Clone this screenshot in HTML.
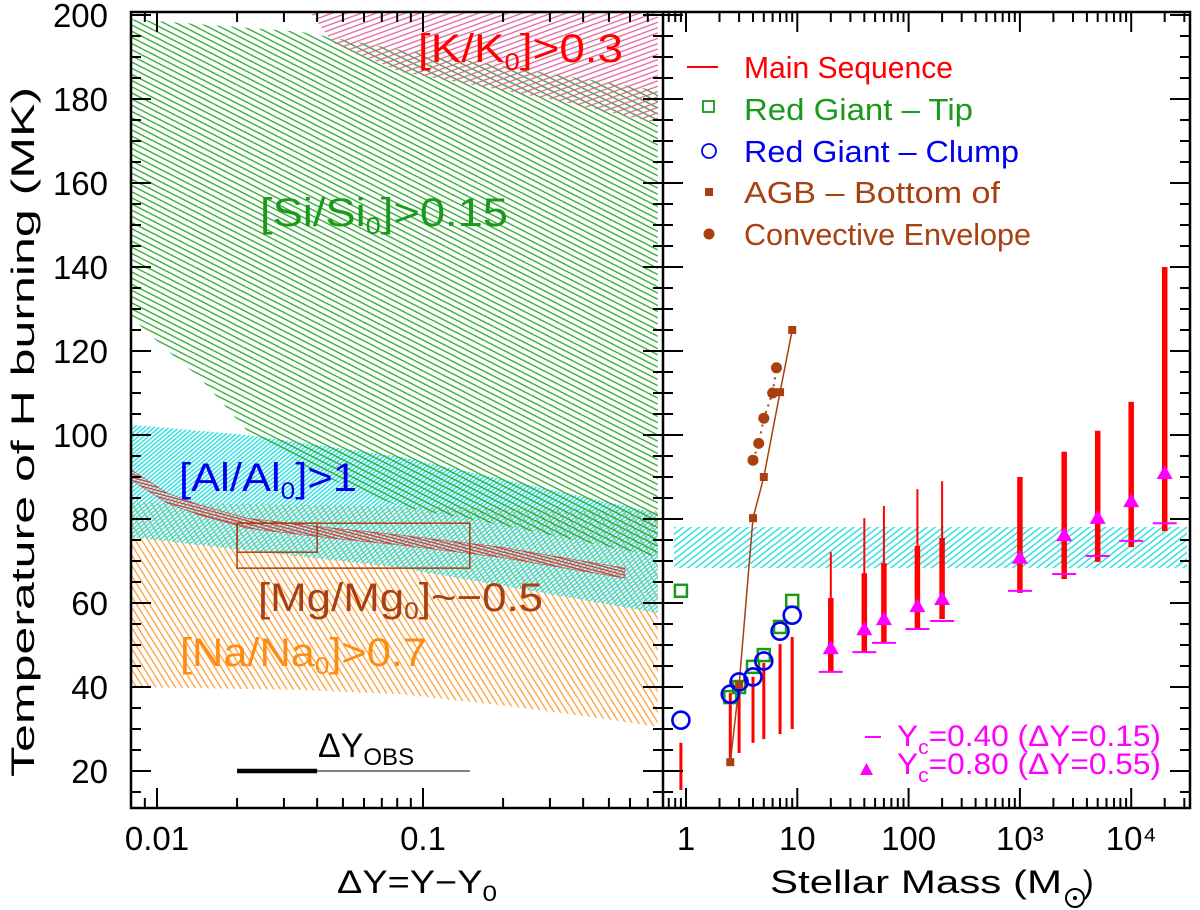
<!DOCTYPE html>
<html><head><meta charset="utf-8"><style>
html,body{margin:0;padding:0;background:#fff;}
svg{display:block;font-family:"Liberation Sans",sans-serif;}
</style></head><body>
<svg id="fig" width="1200" height="910" viewBox="0 0 1200 910" xmlns="http://www.w3.org/2000/svg">
<defs>
<pattern id="pGreen" patternUnits="userSpaceOnUse" width="20" height="5.5" patternTransform="rotate(27)"><line x1="0" y1="1" x2="20" y2="1" stroke="#22a522" stroke-width="1.3"/></pattern>
<pattern id="pPink" patternUnits="userSpaceOnUse" width="20" height="5" patternTransform="rotate(-20)"><line x1="0" y1="1" x2="20" y2="1" stroke="#e0609a" stroke-width="1.2"/></pattern>
<pattern id="pCyanL" patternUnits="userSpaceOnUse" width="20" height="3.2" patternTransform="rotate(-40)"><line x1="0" y1="1" x2="20" y2="1" stroke="#30dede" stroke-width="1.5"/></pattern>
<pattern id="pCyanR" patternUnits="userSpaceOnUse" width="20" height="5" patternTransform="rotate(-38)"><line x1="0" y1="1" x2="20" y2="1" stroke="#30dede" stroke-width="1.4"/></pattern>
<pattern id="pOrange" patternUnits="userSpaceOnUse" width="20" height="5.5" patternTransform="rotate(58)"><line x1="0" y1="1" x2="20" y2="1" stroke="#ff9a30" stroke-width="1.3"/></pattern>
<pattern id="pRed" patternUnits="userSpaceOnUse" width="20" height="3" patternTransform="rotate(15)"><line x1="0" y1="1" x2="20" y2="1" stroke="#e03030" stroke-width="1.2"/></pattern>
</defs>
<g id="regions"></g>
<g id="marks"></g>
<g id="axes"></g>

<g font-size="40">
<text x="418" y="62" fill="#ff0000" textLength="205" lengthAdjust="spacingAndGlyphs">[K/K<tspan font-size="24" dy="8">0</tspan><tspan dy="-8">]&gt;0.3</tspan></text>
<text x="260" y="226" fill="#1a9a1a" textLength="248" lengthAdjust="spacingAndGlyphs">[Si/Si<tspan font-size="24" dy="8">0</tspan><tspan dy="-8">]&gt;0.15</tspan></text>
<text x="179" y="491" fill="#0000ee" textLength="178" lengthAdjust="spacingAndGlyphs">[Al/Al<tspan font-size="24" dy="8">0</tspan><tspan dy="-8">]&gt;1</tspan></text>
<text x="258" y="611" fill="#a84010" textLength="285" lengthAdjust="spacingAndGlyphs">[Mg/Mg<tspan font-size="24" dy="8">0</tspan><tspan dy="-8">]~−0.5</tspan></text>
<text x="180" y="666" fill="#ff8c10" textLength="247" lengthAdjust="spacingAndGlyphs">[Na/Na<tspan font-size="24" dy="8">0</tspan><tspan dy="-8">]&gt;0.7</tspan></text>
<text x="318" y="757" fill="#000" font-size="34">ΔY<tspan font-size="24" dy="8">OBS</tspan></text>
</g>

<g font-size="31">
<line x1="687" y1="67" x2="718" y2="67" stroke="#ff0000" stroke-width="2"/>
<text x="744" y="78" fill="#ff0000" textLength="209" lengthAdjust="spacingAndGlyphs">Main Sequence</text>
<rect x="703" y="101" width="11" height="11" fill="none" stroke="#1a9a1a" stroke-width="1.8"/>
<text x="744" y="120" fill="#1a9a1a" textLength="229" lengthAdjust="spacingAndGlyphs">Red Giant – Tip</text>
<circle cx="709" cy="151" r="7" fill="none" stroke="#0000ee" stroke-width="1.8"/>
<text x="744" y="162" fill="#0000ee" textLength="275" lengthAdjust="spacingAndGlyphs">Red Giant – Clump</text>
<rect x="705" y="188" width="8" height="8" fill="#a84010"/>
<text x="744" y="203" fill="#a84010" textLength="256" lengthAdjust="spacingAndGlyphs">AGB – Bottom of</text>
<circle cx="709" cy="234" r="5.5" fill="#a84010"/>
<text x="744" y="245" fill="#a84010" textLength="287" lengthAdjust="spacingAndGlyphs">Convective Envelope</text>
</g>
<g font-size="30" fill="#ff00ff">
<line x1="865" y1="737" x2="881" y2="737" stroke="#ff00ff" stroke-width="2"/>
<text x="897" y="746" textLength="264" lengthAdjust="spacingAndGlyphs">Y<tspan font-size="20" dy="8">c</tspan><tspan dy="-8">=0.40 (ΔY=0.15)</tspan></text>
<polygon points="860,775 873,775 866.5,763" fill="#ff00ff"/>
<text x="897" y="774" textLength="264" lengthAdjust="spacingAndGlyphs">Y<tspan font-size="20" dy="8">c</tspan><tspan dy="-8">=0.80 (ΔY=0.55)</tspan></text>
</g>

<g font-size="32" fill="#000">
<text transform="translate(34,432) rotate(-90)" text-anchor="middle" textLength="690" lengthAdjust="spacingAndGlyphs">Temperature of H burning (MK)</text>
<text x="337" y="893" textLength="160" lengthAdjust="spacingAndGlyphs">ΔY=Y−Y<tspan font-size="22" dy="8">0</tspan></text>
<text x="770" y="893" textLength="292" lengthAdjust="spacingAndGlyphs">Stellar Mass (M</text>
<circle cx="1075" cy="898" r="9" fill="none" stroke="#000" stroke-width="2"/>
<circle cx="1075" cy="898" r="2" fill="#000"/>
<text x="1083" y="893">)</text>
</g>
</svg>
<script>
// ---------- data ----------
const siTop = [[0.008,199],[0.0345,196],[0.082,191.7],[0.763,182]];
const siBottom = [[0.763,71],[0.195,78.6],[0.082,83],[0.041,90.5],[0.0218,101],[0.0145,113.6],[0.0109,120.2],[0.008,128]];
const kTop = [[0.0376,200.7],[0.763,200.7]];
const kBottom = [[0.763,174.3],[0.30,180],[0.082,186.5],[0.046,193.3]];
const alTop = [[0.008,102.4],[0.0218,100],[0.082,94.8],[0.763,81.4]];
const alBottom = [[0.763,57.6],[0.082,68.4],[0.008,75.7]];
const naTop = [[0.008,84],[0.763,82]];
const naBottom = [[0.763,30.5],[0.462,32.6],[0.195,35.7],[0.082,38.3],[0.0345,39.3],[0.008,40]];
const mgBand = [[0.008,90.5],[0.0109,85],[0.0145,82.1],[0.0218,79],[0.0447,76.7],[0.082,75],[0.195,72.1],[0.574,67.1]];
const mgHalfWidth = 1.2;
const obsBoxOuter = [0.02,0.15,68.3,79];
const obsBoxInner = [0.02,0.04,72.1,79];
const dyObsThick = [0.02,0.04];
const dyObsThin = [0.04,0.15];
const dyObsT = 20;
const clumpBand = [0.78,68.3,78.1];

const lowMass = [0.9,2.5,3,4,5,7,9];
const msLowTop = [26.7,38.6,40,42.4,45.7,50.2,51.9];
const msLowBottom = [15.5,22,24.3,26.7,27.6,28.8,30];
const rgTip = [62.9,37.6,40,44.8,47.6,54.3,60.5];
const rgClump = [32.1,38.3,41.2,42.4,46.2,53.3,57.1];
const agbSqMass = [2.5,3,4,5,7,9];
const agbSqT = [22.1,40.5,80.2,90,110.2,125];
const agbCircMass = [4,4.5,5,6,6.5];
const agbCircT = [94,98,104,110,116];

const highMass = [20,40,60,120,200,1000,2500,5000,10000,20000];
const msThinTop = [72.1,80.2,83.1,87.1,89,null,null,null,null,null];
const msThickTop = [61.2,67.1,69.5,73.6,75.5,90,96,101,107.9,140];
const msBottom = [43.6,48.3,50.5,53.8,56.2,62.4,65.7,69.8,73.3,77.1];
const yc080 = [49.5,54,56.4,59.5,61.2,71,76.4,80.5,84.5,91.2];
const yc040 = [43.6,48.3,50.5,53.8,55.7,62.9,66.9,71.2,74.8,79];

const yTicksMajor = [20,40,60,80,100,120,140,160,180,200];
const leftXTickLabels = [["0.01",0.01],["0.1",0.1]];
const rightXTickLabels = [["1",1],["10",10],["100",100],["10³",1000],["10⁴",10000]];

// ---------- axes functions ----------
const PT=12, PB=808, L0=131, MID=663, R1=1190;
const yT = t => 15 + (200 - t) * 4.2;
const xL = d => 157 + (Math.log10(d) + 2) * 266;
const xR = m => 686 + Math.log10(m) * 111.3;
const NS='http://www.w3.org/2000/svg';
function mk(tag, attrs, parent){const el=document.createElementNS(NS,tag);for(const k in attrs)el.setAttribute(k,attrs[k]);parent.appendChild(el);return el;}
const reg=document.getElementById('regions'), mkg=document.getElementById('marks'), ax=document.getElementById('axes');

function poly(pts){return pts.map(p=>xL(p[0]).toFixed(1)+','+yT(p[1]).toFixed(1)).join(' ');}
const defs=document.querySelector('defs');
const cp=mk('clipPath',{id:'clipL'},defs); mk('rect',{x:L0,y:PT,width:MID-L0-5,height:PB-PT},cp);
const cpR=mk('clipPath',{id:'clipR'},defs); mk('rect',{x:MID,y:PT,width:R1-MID,height:PB-PT},cpR);
const gl=mk('g',{'clip-path':'url(#clipL)'},reg);

let e;
e=mk('polygon',{points:poly(naTop.concat(naBottom)),fill:'url(#pOrange)'},gl);


e=mk('polygon',{points:poly(alTop.concat(alBottom)),fill:'url(#pCyanL)'},gl);


e=mk('polygon',{points:poly(siTop.concat(siBottom)),fill:'url(#pGreen)'},gl);


e=mk('polygon',{points:poly(kTop.concat(kBottom)),fill:'url(#pPink)'},gl);


const mgPts = mgBand.map(p=>[p[0],p[1]+mgHalfWidth]).concat(mgBand.slice().reverse().map(p=>[p[0],p[1]-mgHalfWidth]));
e=mk('polygon',{points:poly(mgPts),fill:'url(#pRed)',stroke:'#d04040','stroke-width':0.6},gl);


function box(b,name){
  const r=mk('rect',{x:xL(b[0]),y:yT(b[3]),width:xL(b[1])-xL(b[0]),height:yT(b[2])-yT(b[3]),fill:'none',stroke:'#a84010','stroke-width':1.5},gl);
  
  
}
box(obsBoxOuter,'obs-box-outer'); box(obsBoxInner,'obs-box-inner');
e=mk('line',{x1:xL(dyObsThick[0]),x2:xL(dyObsThick[1]),y1:yT(dyObsT),y2:yT(dyObsT),stroke:'#000','stroke-width':4.5},gl);


e=mk('line',{x1:xL(dyObsThin[0]),x2:xL(dyObsThin[1]),y1:yT(dyObsT),y2:yT(dyObsT),stroke:'#333','stroke-width':1.3},gl);



const gr=mk('g',{'clip-path':'url(#clipR)'},mkg);
e=mk('rect',{x:xR(clumpBand[0]),y:yT(clumpBand[2]),width:1187-xR(clumpBand[0]),height:yT(clumpBand[1])-yT(clumpBand[2]),fill:'url(#pCyanR)'},gr);



lowMass.forEach((m,i)=>{
  const l=mk('line',{x1:xR(m),x2:xR(m),y1:yT(msLowTop[i]),y2:yT(msLowBottom[i]),stroke:'#ff0000','stroke-width':3},gr);
  
  
});
e=mk('polyline',{points:agbSqMass.map((m,i)=>xR(m)+','+yT(agbSqT[i])).join(' '),fill:'none',stroke:'#a84010','stroke-width':1.5},gr);


e=mk('polyline',{points:agbCircMass.map((m,i)=>xR(m)+','+yT(agbCircT[i])).join(' '),fill:'none',stroke:'#a84010','stroke-width':2,'stroke-dasharray':'2 5'},gr);


lowMass.forEach((m,i)=>{
  const s=mk('rect',{x:xR(m)-6,y:yT(rgTip[i])-6,width:12,height:12,fill:'none',stroke:'#1a9a1a','stroke-width':2.5},gr);
  
  
});
lowMass.forEach((m,i)=>{
  const c=mk('circle',{cx:xR(m),cy:yT(rgClump[i]),r:8.5,fill:'none',stroke:'#0000ee','stroke-width':2.6},gr);
  
  
});
agbSqMass.forEach((m,i)=>{
  const s=mk('rect',{x:xR(m)-4,y:yT(agbSqT[i])-4,width:8,height:8,fill:'#a84010'},gr);
  
  
});
agbCircMass.forEach((m,i)=>{
  const c=mk('circle',{cx:xR(m),cy:yT(agbCircT[i]),r:5.5,fill:'#a84010'},gr);
  
  
});
highMass.forEach((m,i)=>{
  const x=xR(m);
  if(msThinTop[i]!==null){
    const t=mk('line',{x1:x,x2:x,y1:yT(msThinTop[i]),y2:yT(msThickTop[i]),stroke:'#ff0000','stroke-width':2},gr);
    
    
  }
  const b=mk('line',{x1:x,x2:x,y1:yT(msThickTop[i]),y2:yT(msBottom[i]),stroke:'#ff0000','stroke-width':5.5},gr);
  
  
  const d=mk('line',{x1:x-12,x2:x+12,y1:yT(yc040[i]),y2:yT(yc040[i]),stroke:'#ff00ff','stroke-width':2},gr);
  
  
  const ty=yT(yc080[i]);
  const p=mk('polygon',{points:(x-8)+','+(ty+7)+' '+(x+8)+','+(ty+7)+' '+x+','+(ty-7),fill:'#ff00ff'},gr);
  
  
});

e=mk('rect',{x:L0,y:PT,width:R1-L0,height:PB-PT,fill:'none',stroke:'#000','stroke-width':2.5},ax);


e=mk('line',{x1:MID,x2:MID,y1:PT,y2:PB,stroke:'#000','stroke-width':2.5},ax);


const tk=mk('g',{stroke:'#000','stroke-width':2},ax);
for(let t=15;t<=200;t+=5){
  const y=yT(t); const len=(t%20===0)?20:10;
  [[L0,1],[MID,-1],[MID,1],[R1,-1]].forEach(([x0,dir])=>{mk('line',{x1:x0,x2:x0+dir*len,y1:y,y2:y},tk);});
}
function xt(xf,lo,hi,x0,x1){
  for(let dec=lo;dec<=hi;dec++){
    for(let k=1;k<10;k++){
      const x=xf(k*Math.pow(10,dec)); if(x<x0+1||x>x1-1)continue;
      const len=k===1?20:10;
      mk('line',{x1:x,x2:x,y1:PB,y2:PB-len},tk); mk('line',{x1:x,x2:x,y1:PT,y2:PT+len},tk);
    }
  }
}
xt(xL,-3,0,L0,MID); xt(xR,-1,5,MID,R1);
const lab=mk('g',{'font-size':33,fill:'#000'},ax);
yTicksMajor.forEach(t=>{const s=mk('text',{x:108,y:yT(t)+12,'text-anchor':'end'},lab);s.textContent=t;
  
  });
leftXTickLabels.forEach(([s,v])=>{const e2=mk('text',{x:xL(v),y:850,'text-anchor':'middle'},lab);e2.textContent=s;
  
  });
rightXTickLabels.forEach(([s,v])=>{const e2=mk('text',{x:xR(v),y:850,'text-anchor':'middle'},lab);e2.textContent=s;
  
  });
</script>
</body></html>
